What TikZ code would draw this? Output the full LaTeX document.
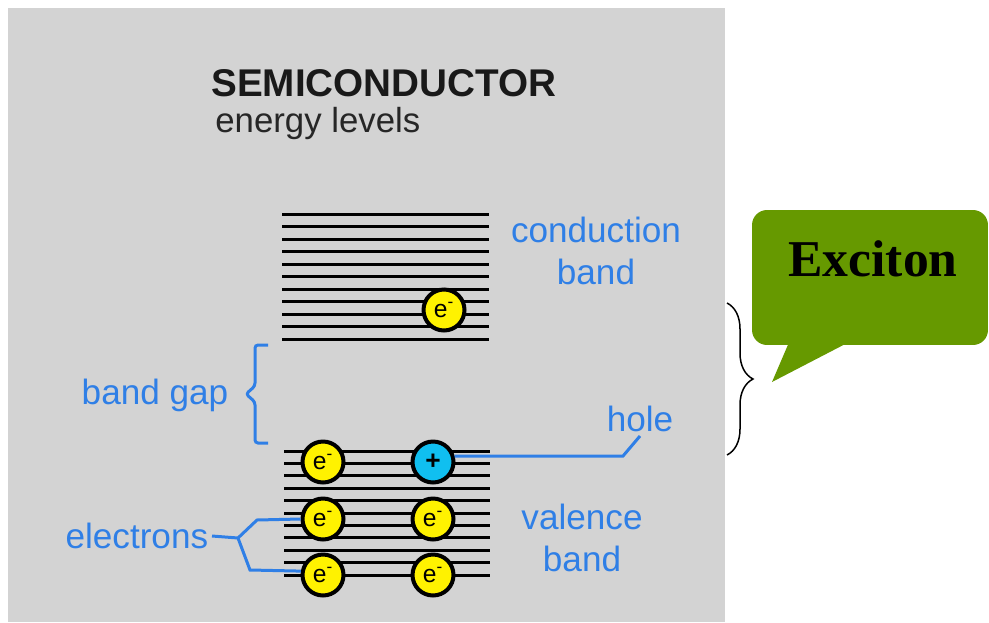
\documentclass[tikz,border=0pt]{standalone}
\usepackage{fontspec}
\setmainfont{Liberation Sans}
\newfontfamily\excitonfont{Liberation Serif}
\usepackage{tikz}
\usetikzlibrary{positioning, calc, decorations.pathreplacing}
\definecolor{panelgray}{HTML}{D3D3D3}
\definecolor{labelblue}{HTML}{2F7FE6}
\definecolor{holecyan}{HTML}{10BFF0}
\definecolor{excitongreen}{HTML}{669900}

\begin{document}
\begin{tikzpicture}[
	x=0.02cm, y=-0.02cm,
	level/.style={line width=0.06cm},
	electron/.style={circle,draw,line width=0.08cm,fill=yellow,minimum size=0.82cm,inner sep=0pt,font=\fontsize{14}{14}\selectfont},
	holecirc/.style={electron,fill=holecyan,font=\fontsize{15}{15}\selectfont\bfseries},
	blabel/.style={text=labelblue,inner sep=2pt,font=\fontsize{20}{24}\selectfont,align=center},
	wire/.style={labelblue,line width=0.06cm},
	gapbrace/.style={labelblue,line width=0.06cm,rounded corners=0.06cm},
	exbrace/.style={line width=0.03cm,decorate,decoration={brace,amplitude=0.52cm}},
	bubble/.style={rectangle,fill=excitongreen,rounded corners=0.3cm,minimum width=4.72cm,minimum height=2.7cm}
]
\useasboundingbox (0,0) rectangle (989,622);

% Panel
\fill[panelgray] (8,8) rectangle (725,622);
\node[anchor=base west,inner sep=0pt,font=\fontsize{22}{26}\selectfont\bfseries,text=black!90] (title) at (211,96) {SEMICONDUCTOR};
\node[anchor=base west,inner sep=0pt,font=\fontsize{19.8}{24}\selectfont,text=black!85] (subtitle) at (215,132) {energy levels};

% Energy levels
\foreach \i in {0,...,10} {
	\draw[level] (282,{214+12.5*\i}) -- (489,{214+12.5*\i});
	\draw[level] (284,{451+12.4*\i}) -- (490,{451+12.4*\i});
}

% Conduction band
\node[electron] (econd) at (444,310) {e\textsuperscript{-}};
\node[blabel] (condlabel) at (596,251) {conduction\\band};

% Valence band
\node[electron] (ev11) at (323,462) {e\textsuperscript{-}};
\node[holecirc] (hole) at (433,462) {+};
\node[electron] (ev21) at (323,519) {e\textsuperscript{-}};
\node[electron] (ev22) at (433,519) {e\textsuperscript{-}};
\node[electron] (ev31) at (323,575) {e\textsuperscript{-}};
\node[electron] (ev32) at (433,575) {e\textsuperscript{-}};
\node[blabel] (vallabel) at (582,538) {valence\\band};

% Band gap
\node[blabel] (gaplabel) at (155,395) {band gap};
\draw[gapbrace] (268,345) -- (255,345) -- (255,386) -- (246,394) -- (255,402) -- (255,443) -- (268,443);

% Hole label
\node[blabel,anchor=south] (holelabel) at (640,436) {hole};
\coordinate (holebend) at (623,456);
\draw[wire] (hole.15) -- (holebend) -- (holelabel.south);

% Electrons label
\node[blabel,anchor=east] (elabel) at (212,536) {electrons};
\coordinate (fork) at (238,538);
\draw[wire] (elabel.east) -- (fork) -- ++(19,-18) -- (ev21.west);
\draw[wire] (fork) -- ++(12,32) -- (ev31.170);

% Exciton
\draw[exbrace] (727,303) -- (727,455);
\node[bubble] (bubble) at (870,277.5) {};
\fill[excitongreen] (790,340) -- (772,382) -- (853,340) -- cycle;
\node[font=\excitonfont\fontsize{29.4}{32}\selectfont\bfseries] (exciton) at (873,259) {Exciton};

\end{tikzpicture}
\end{document}
